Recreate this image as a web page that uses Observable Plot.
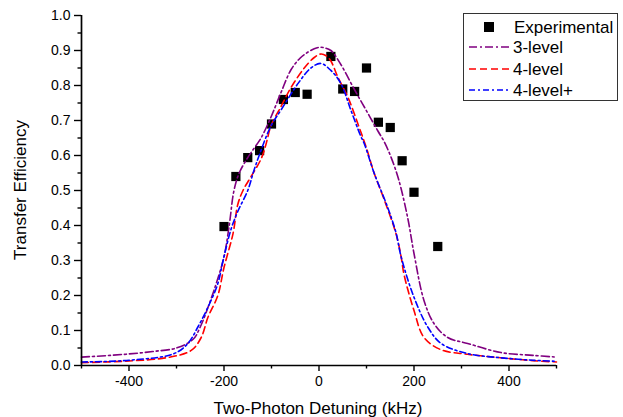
<!DOCTYPE html>
<html><head><meta charset="utf-8">
<script src="https://cdn.jsdelivr.net/npm/d3@7"></script>
<script src="https://cdn.jsdelivr.net/npm/@observablehq/plot@0.6"></script>
<style>body{margin:0;background:#fff} svg{display:block}</style>
</head><body><div id="chart"></div>
<script>
// Experimental data
const expDetuning = [-200,-175,-150,-125,-100,-75,-50,-25,25,50,75,100,125,150,175,200,250];
const expEfficiency = [0.397,0.54,0.594,0.614,0.69,0.76,0.78,0.775,0.883,0.79,0.783,0.85,0.695,0.68,0.585,0.495,0.34];

// 3-level model
const threeX = [-500,-450,-400,-350,-300,-265,-250,-230,-215,-200,-189,-179,-168,-150,-137,-122,-101,-80,-59,-40,-27,-10,0,10,25,46,74,99,124,137,152,168,187,200,221,242,271,313,383,450,500];
const threeY = [0.024,0.028,0.033,0.04,0.05,0.075,0.11,0.18,0.24,0.31,0.40,0.5,0.55,0.594,0.62,0.65,0.71,0.78,0.845,0.878,0.892,0.905,0.909,0.908,0.9,0.86,0.79,0.73,0.67,0.64,0.594,0.53,0.42,0.32,0.186,0.12,0.08,0.063,0.037,0.029,0.024];

// 4-level model
const fourX = [-500,-400,-318,-269,-248,-234,-213,-200,-181,-171,-160,-143,-122,-112,-101,-80,-59,-31,-10,4,15,25,40,61,82,99,116,137,162,173,179,200,221,257,313,383,450,500];
const fourY = [0.008,0.013,0.023,0.043,0.08,0.137,0.2,0.28,0.377,0.46,0.5,0.54,0.59,0.63,0.685,0.74,0.794,0.85,0.88,0.89,0.885,0.87,0.823,0.766,0.69,0.625,0.55,0.475,0.377,0.31,0.26,0.157,0.08,0.045,0.032,0.022,0.014,0.01];

// 4-level+ model
const fourPlusX = [-500,-400,-305,-276,-255,-234,-213,-202,-185,-171,-150,-137,-126,-101,-80,-44,-17,4,25,46,67,88,95,116,145,162,173,200,229,257,313,383,450,500];
const fourPlusY = [0.01,0.015,0.034,0.063,0.11,0.166,0.234,0.3,0.39,0.44,0.5,0.557,0.6,0.685,0.73,0.806,0.85,0.863,0.843,0.806,0.73,0.655,0.635,0.55,0.45,0.38,0.31,0.195,0.11,0.063,0.034,0.022,0.015,0.012];

const xMajor = [-400,-200,0,200,400];
const xMinor = [-500,-300,-100,100,300,500];
const yMajor = [0,0.1,0.2,0.3,0.4,0.5,0.6,0.7,0.8,0.9,1.0];
const yMinor = [0.05,0.15,0.25,0.35,0.45,0.55,0.65,0.75,0.85,0.95];

const seriesNames = ["3-level","4-level","4-level+"];
const seriesColors = ["#800080","#ff0000","#0000ff"];
const seriesDash = ["8,3,2,3","7,4","6,3,2,3"];

const expData = expDetuning.map((x,i)=>({x, y: expEfficiency[i]}));
const curves = [[threeX,threeY],[fourX,fourY],[fourPlusX,fourPlusY]].map(([xs,ys])=>xs.map((x,i)=>({x,y:ys[i]})));

const plot = Plot.plot({
  width: 623, height: 417,
  marginLeft: 81, marginRight: 67, marginTop: 15, marginBottom: 52,
  style: {fontFamily: "'Liberation Sans', Arial, sans-serif", fontSize: "14px", color: "#000", background: "#fff"},
  x: {domain: [-500,500]},
  y: {domain: [0,1]},
  marks: [
    Plot.dot(expData, {x:"x", y:"y", symbol:"square", r:5.2, fill:"#000", stroke:"none"}),
    ...curves.map((d,i)=>Plot.line(d, {x:"x", y:"y", curve:"catmull-rom", stroke: seriesColors[i], strokeWidth:1.6, strokeDasharray: seriesDash[i]})),
    Plot.axisX({ticks: xMajor, tickSize: 6, tickPadding: 5, tickFormat: d=>String(d), label: null, fontSize: 14, strokeWidth: 1.4}),
    Plot.axisX({ticks: xMinor, tickSize: 3.5, text: null, label: null, strokeWidth: 1.4}),
    Plot.axisY({ticks: yMajor, tickSize: 7, tickPadding: 4, tickFormat: d3.format(".1f"), label: null, fontSize: 14, strokeWidth: 1.4}),
    Plot.axisY({ticks: yMinor, tickSize: 3.5, text: null, label: null, strokeWidth: 1.4}),
    Plot.ruleX([-500], {stroke:"#000", strokeWidth:1.7}),
    Plot.ruleY([0], {stroke:"#000", strokeWidth:1.7})
  ]
});

const svg = d3.select(plot);
// axis titles
svg.append("text").attr("x", 318).attr("y", 414).attr("text-anchor","middle")
  .attr("font-size", 17).attr("fill","#000").text("Two-Photon Detuning (kHz)");
svg.append("text").attr("transform","translate(26,190) rotate(-90)").attr("text-anchor","middle")
  .attr("font-size", 17).attr("fill","#000").text("Transfer Efficiency");

// legend
const lg = svg.append("g").attr("text-anchor","start");
lg.append("rect").attr("x",463.5).attr("y",13.5).attr("width",154).attr("height",87)
  .attr("fill","#fff").attr("stroke","#333").attr("stroke-width",1);
lg.append("rect").attr("x",484).attr("y",22).attr("width",10).attr("height",10).attr("fill","#000");
lg.append("text").attr("x",514).attr("y",33).attr("text-anchor","start").attr("font-size",17).attr("fill","#000").text("Experimental");
const rowsY = [47,69,90];
seriesNames.forEach((name,i)=>{
  lg.append("line").attr("x1",469).attr("x2",510).attr("y1",rowsY[i]).attr("y2",rowsY[i])
    .attr("stroke",seriesColors[i]).attr("stroke-width",1.6).attr("stroke-dasharray",seriesDash[i]);
  lg.append("text").attr("x",513).attr("y",rowsY[i]+6).attr("text-anchor","start").attr("font-size",17).attr("fill","#000").text(name);
});

document.getElementById("chart").appendChild(plot);
</script></body></html>
